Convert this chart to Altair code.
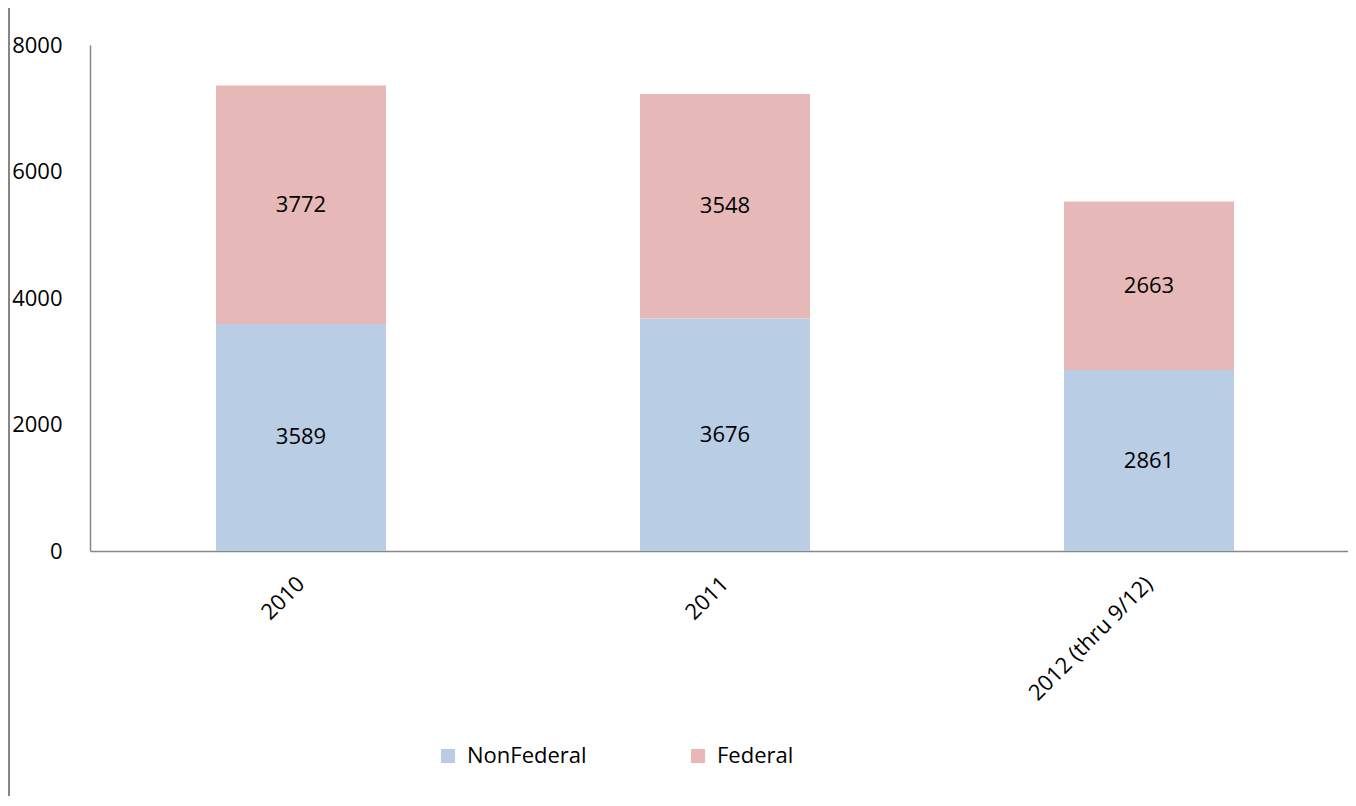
import altair as alt
import pandas as pd

years = ["2010", "2011", "2012 (thru 9/12)"]
nonfederal = [3589, 3676, 2861]
federal = [3772, 3548, 2663]
series = ["NonFederal", "Federal"]
colors = ["#B9CDE5", "#E6B9B8"]

rows = []
for i, y in enumerate(years):
    rows.append({"year": y, "series": "NonFederal", "value": nonfederal[i], "ord": 0})
    rows.append({"year": y, "series": "Federal", "value": federal[i], "ord": 1})
df = pd.DataFrame(rows)

FONT = "Open Sans"
FS = 22

x_enc = alt.X("year:N", sort=years, title=None,
              scale=alt.Scale(paddingInner=0.599, paddingOuter=0.283, align=0.525),
              axis=alt.Axis(labelAngle=-45, labelFontSize=FS, labelFont=FONT, labelColor="#000",
                            ticks=False, domainColor="#868686", domainWidth=1.5,
                            labelPadding=29, labelAlign="right", labelBaseline="middle"))
y_enc = alt.Y("value:Q", stack="zero", title=None,
              scale=alt.Scale(domain=[0, 8000], nice=False),
              axis=alt.Axis(values=[0, 2000, 4000, 6000, 8000], grid=False, ticks=False, format="d",
                            labelFontSize=FS, labelFont=FONT, labelColor="#000",
                            domainColor="#868686", domainWidth=1.5, labelPadding=28))

bars = alt.Chart(df).mark_bar().encode(
    x=x_enc,
    y=y_enc,
    color=alt.Color("series:N", sort=series,
                    scale=alt.Scale(domain=series, range=colors),
                    legend=alt.Legend(title=None, orient="none", direction="horizontal",
                                      legendX=347, legendY=700,
                                      symbolType="square", symbolSize=200, symbolStrokeWidth=0,
                                      labelFontSize=FS, labelFont=FONT, labelColor="#000",
                                      columnPadding=100, symbolOffset=0, labelOffset=8)),
    order=alt.Order("ord:Q"),
)

labels = alt.Chart(df).mark_text(fontSize=FS, font=FONT, color="#000").encode(
    x=alt.X("year:N", sort=years),
    y=alt.Y("mid:Q"),
    text=alt.Text("value:Q"),
).transform_stack(
    stack="value", groupby=["year"], as_=["lo", "hi"], sort=[alt.SortField("ord")]
).transform_calculate(mid="(datum.lo + datum.hi) / 2")

border = alt.Chart(df).mark_rule(color="#868686", strokeWidth=1.5).encode(
    x=alt.value(-81), y=alt.value(-45), y2=alt.value(755)
)

chart = alt.layer(bars, labels, border).properties(
    width=1258, height=506,
    autosize=alt.AutoSizeParams(type="none"),
    padding={"left": 82, "top": 37, "right": 0, "bottom": 245},
).configure_view(stroke=None)

chart.save("out.html", embed_options={"renderer": "svg", "actions": False})
